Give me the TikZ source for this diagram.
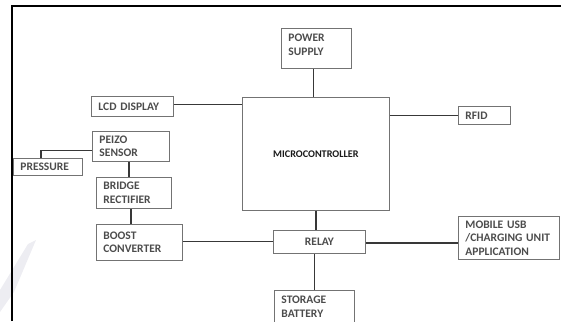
\documentclass[tikz,border=0pt]{standalone}
\usepackage{fontspec}
\setmainfont{Carlito}
\usetikzlibrary{positioning}

\tikzset{
  blk/.style={draw=black!55, line width=0.9pt, rectangle, anchor=north west,
    inner xsep=7pt, inner ysep=2pt, align=left, text=black!70,
    font=\bfseries\fontsize{11.5}{13.5}\selectfont},
  wire/.style={draw=black!78, line width=1.3pt},
}

\begin{document}
\begin{tikzpicture}[x=1pt, y=-1pt]

\useasboundingbox (0,0) rectangle (561,321);

% watermark and frame
\fill [blue!15!gray!12] (0,312) -- (0,290) -- (28,244) -- (36,240) -- (14,292) -- cycle;
\draw [line width=1.6pt] (12,321) -- (12,6) -- (561,6);

% blocks
\node [blk, text width=56pt, minimum height=40pt, text depth=21pt] (power) at (281,28) {POWER\\SUPPLY};
\node [blk, text width=68pt, minimum height=20pt] (lcd) at (91,96) {LCD DISPLAY};
\node [blk, text width=133pt, minimum height=113pt, align=center, text=black!90,
  font=\bfseries\fontsize{10.2}{12}\selectfont] (micro) at (242,97) {MICROCONTROLLER};
\node [blk, text width=38pt, minimum height=18pt] (rfid) at (458,106) {RFID};
\node [blk, text width=63pt, minimum height=30pt] (peizo) at (92,131) {PEIZO\\SENSOR};
\node [blk, text width=55pt, minimum height=17pt] (pressure) at (13,158) {PRESSURE};
\node [blk, text width=61pt, minimum height=31pt] (bridge) at (96,177) {BRIDGE\\RECTIFIER};
\node [blk, text width=72pt, minimum height=36pt] (boost) at (96,224) {BOOST\\CONVERTER};
\node [blk, text width=78pt, minimum height=23pt, align=center] (relay) at (273,230) {RELAY};
\node [blk, text width=87pt, minimum height=43pt] (mobile) at (458,216) {MOBILE USB\\/CHARGING UNIT\\APPLICATION};
\node [blk, text width=66pt, minimum height=33pt] (storage) at (274,290) {STORAGE\\BATTERY};

% connections
\draw [wire] ([xshift=-3pt]power.south) -- ([xshift=-3pt]power.south |- micro.north);
\draw [wire] ([yshift=2pt]lcd.east) -- ([yshift=2pt]lcd.east -| micro.west);
\draw [wire] (rfid.west) -- (rfid.west -| micro.east);
\draw [wire] (micro.south) -- (micro.south |- relay.north);
\draw [wire] ([yshift=1pt]boost.east) -- ([yshift=1pt]boost.east -| relay.west);
\draw [wire] ([yshift=-1pt]relay.east) -- ([yshift=-1pt]relay.east -| mobile.west);
\draw [wire] (storage.north) -- (storage.north |- relay.south);

\coordinate (bend) at ([xshift=-7pt]pressure.north |- peizo.west);
\draw [wire] ([yshift=-4pt]peizo.west) -- ([yshift=-4pt]bend) -- ([xshift=-7pt]pressure.north);
\draw [wire] ([xshift=-2pt]peizo.south) -- ([xshift=-2pt]peizo.south |- bridge.north);
\draw [wire] ([xshift=-3pt]bridge.south) -- ([xshift=-3pt]bridge.south |- boost.north);

\end{tikzpicture}
\end{document}
